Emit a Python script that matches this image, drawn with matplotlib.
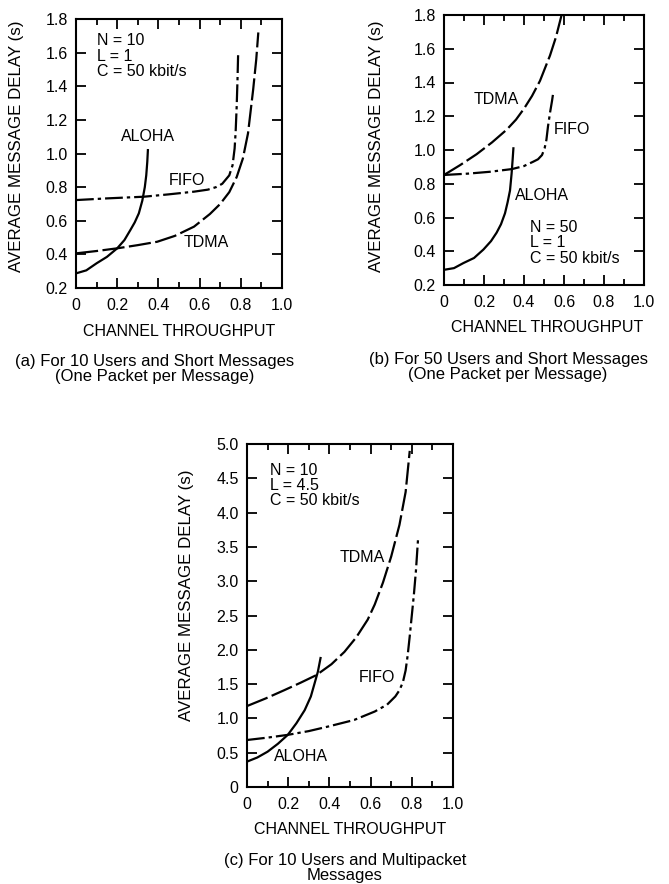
from matplotlib import pyplot as plt
from matplotlib.ticker import MultipleLocator

plt.rcParams['font.family'] = ['Liberation Sans', 'DejaVu Sans']

# (a) 10 users, short messages
a_aloha_x = [0, 0.05, 0.10, 0.15, 0.20, 0.235, 0.264, 0.285, 0.305, 0.322, 0.334, 0.341, 0.346, 0.349]
a_aloha_y = [0.287, 0.305, 0.347, 0.385, 0.436, 0.485, 0.545, 0.59, 0.644, 0.72, 0.80, 0.87, 0.95, 1.02]
a_fifo_x = [0, 0.15, 0.33, 0.45, 0.573, 0.64, 0.68, 0.71, 0.744, 0.76, 0.77, 0.775, 0.78, 0.784, 0.787]
a_fifo_y = [0.723, 0.733, 0.743, 0.757, 0.773, 0.785, 0.80, 0.82, 0.87, 0.93, 1.03, 1.13, 1.28, 1.44, 1.59]
a_tdma_x = [0, 0.1, 0.2, 0.3, 0.394, 0.48, 0.573, 0.65, 0.70, 0.744, 0.78, 0.81, 0.835, 0.86, 0.875, 0.885]
a_tdma_y = [0.406, 0.42, 0.436, 0.455, 0.475, 0.51, 0.565, 0.64, 0.70, 0.77, 0.86, 0.97, 1.12, 1.38, 1.56, 1.72]

# (b) 50 users, short messages
b_aloha_x = [0, 0.05, 0.097, 0.15, 0.197, 0.235, 0.263, 0.285, 0.305, 0.318, 0.33, 0.338, 0.343, 0.347]
b_aloha_y = [0.29, 0.30, 0.33, 0.36, 0.41, 0.46, 0.51, 0.56, 0.625, 0.69, 0.76, 0.86, 0.94, 1.01]
b_fifo_x = [0, 0.12, 0.23, 0.34, 0.4, 0.445, 0.47, 0.49, 0.503, 0.512, 0.52, 0.53, 0.54, 0.545]
b_fifo_y = [0.852, 0.86, 0.871, 0.887, 0.905, 0.93, 0.945, 0.97, 1.01, 1.06, 1.14, 1.22, 1.29, 1.33]
b_tdma_x = [0, 0.08, 0.163, 0.24, 0.313, 0.36, 0.40, 0.44, 0.48, 0.53, 0.56, 0.588]
b_tdma_y = [0.852, 0.91, 0.975, 1.045, 1.12, 1.18, 1.245, 1.32, 1.41, 1.56, 1.67, 1.80]

# (c) 10 users, multipacket messages
c_aloha_x = [0, 0.05, 0.10, 0.15, 0.198, 0.24, 0.28, 0.31, 0.328, 0.344, 0.357]
c_aloha_y = [0.37, 0.43, 0.515, 0.63, 0.76, 0.93, 1.12, 1.32, 1.51, 1.68, 1.88]
c_fifo_x = [0, 0.1, 0.198, 0.3, 0.392, 0.52, 0.62, 0.68, 0.72, 0.74, 0.757, 0.77, 0.78, 0.79, 0.80, 0.81, 0.82, 0.83]
c_fifo_y = [0.685, 0.72, 0.76, 0.815, 0.88, 0.977, 1.10, 1.20, 1.32, 1.41, 1.53, 1.70, 1.92, 2.2, 2.5, 2.8, 3.15, 3.6]
c_tdma_x = [0, 0.09, 0.18, 0.26, 0.336, 0.41, 0.473, 0.53, 0.586, 0.62, 0.66, 0.70, 0.74, 0.77, 0.79]
c_tdma_y = [1.18, 1.29, 1.41, 1.52, 1.63, 1.79, 1.97, 2.18, 2.44, 2.66, 2.98, 3.36, 3.82, 4.3, 4.9]

x_ticks = [0, 0.2, 0.4, 0.6, 0.8, 1.0]
x_tick_labels = ['0', '0.2', '0.4', '0.6', '0.8', '1.0']
y_ticks_ab = [0.2, 0.4, 0.6, 0.8, 1.0, 1.2, 1.4, 1.6, 1.8]
y_labels_ab = ['0.2', '0.4', '0.6', '0.8', '1.0', '1.2', '1.4', '1.6', '1.8']
y_ticks_c = [0, 0.5, 1.0, 1.5, 2.0, 2.5, 3.0, 3.5, 4.0, 4.5, 5.0]
y_labels_c = ['0', '0.5', '1.0', '1.5', '2.0', '2.5', '3.0', '3.5', '4.0', '4.5', '5.0']

TDMA_LS = (0, (10, 2))
FIFO_LS = (0, (8, 1.8, 1.5, 1.8))
LW = 1.6
FS = 11.5

fig = plt.figure(figsize=(6.69, 8.84), dpi=100)


def px(x, y):
    return x / 669, 1 - y / 884


def panel(rect, ylim, yt, ytl):
    l, t, r, b = rect
    x0, y0 = px(l, b)
    x1, y1 = px(r, t)
    ax = fig.add_axes([x0, y0, x1 - x0, y1 - y0])
    ax.set_xlim(0, 1.0)
    ax.set_ylim(*ylim)
    ax.set_xticks(x_ticks)
    ax.set_xticklabels(x_tick_labels)
    ax.xaxis.set_minor_locator(MultipleLocator(0.1))
    ax.set_yticks(yt)
    ax.set_yticklabels(ytl)
    for s in ax.spines.values():
        s.set_linewidth(1.5)
    ax.tick_params(which='both', direction='in', top=True, right=True,
                   labelsize=FS, width=1.3)
    ax.tick_params(which='major', length=7)
    ax.tick_params(which='minor', length=4)
    ax.tick_params(axis='x', pad=7)
    ax.tick_params(axis='y', pad=6)
    return ax


def labels(ylab_x, ycen, xcen, xlab_y, capx, cap_y, cap):
    fig.text(*px(ylab_x, ycen), 'AVERAGE MESSAGE DELAY (s)', rotation=90,
             ha='center', va='center', fontsize=12.2)
    fig.text(*px(xcen, xlab_y), 'CHANNEL THROUGHPUT', ha='center',
             va='center', fontsize=FS)
    fig.text(*px(capx, cap_y), cap, ha='center', va='center',
             fontsize=12, linespacing=1.05)


def curves(ax, al, fi, td):
    ax.plot(*al, color='black', lw=LW)
    ax.plot(*fi, color='black', lw=LW, ls=FIFO_LS)
    ax.plot(*td, color='black', lw=LW, ls=TDMA_LS)


# panel (a)
ax = panel((76, 19, 282, 288), (0.2, 1.8), y_ticks_ab, y_labels_ab)
curves(ax, (a_aloha_x, a_aloha_y), (a_fifo_x, a_fifo_y), (a_tdma_x, a_tdma_y))
ax.text(0.35, 1.10, 'ALOHA', ha='center', va='center', fontsize=FS)
ax.text(0.54, 0.84, 'FIFO', ha='center', va='center', fontsize=FS)
ax.text(0.63, 0.47, 'TDMA', ha='center', va='center', fontsize=FS)
ax.text(0.103, 1.715, 'N = 10\nL = 1\nC = 50 kbit/s', ha='left', va='top',
        fontsize=FS, linespacing=1.03)
labels(17, 146, 179, 332, 155, 369,
       '(a) For 10 Users and Short Messages\n(One Packet per Message)')

# panel (b)
ax = panel((444, 15, 644, 285), (0.2, 1.8), y_ticks_ab, y_labels_ab)
curves(ax, (b_aloha_x, b_aloha_y), (b_fifo_x, b_fifo_y), (b_tdma_x, b_tdma_y))
ax.text(0.49, 0.73, 'ALOHA', ha='center', va='center', fontsize=FS)
ax.text(0.64, 1.12, 'FIFO', ha='center', va='center', fontsize=FS)
ax.text(0.26, 1.30, 'TDMA', ha='center', va='center', fontsize=FS)
ax.text(0.43, 0.585, 'N = 50\nL = 1\nC = 50 kbit/s', ha='left', va='top',
        fontsize=FS, linespacing=1.03)
labels(377, 146, 547, 328, 508, 367,
       '(b) For 50 Users and Short Messages\n(One Packet per Message)')

# panel (c)
ax = panel((247, 444, 453, 787), (0, 5.0), y_ticks_c, y_labels_c)
curves(ax, (c_aloha_x, c_aloha_y), (c_fifo_x, c_fifo_y), (c_tdma_x, c_tdma_y))
ax.text(0.26, 0.44, 'ALOHA', ha='center', va='center', fontsize=FS)
ax.text(0.63, 1.59, 'FIFO', ha='center', va='center', fontsize=FS)
ax.text(0.56, 3.34, 'TDMA', ha='center', va='center', fontsize=FS)
ax.text(0.11, 4.73, 'N = 10\nL = 4.5\nC = 50 kbit/s', ha='left', va='top',
        fontsize=FS, linespacing=1.03)
labels(187, 595, 350, 830, 345, 868,
       '(c) For 10 Users and Multipacket\nMessages')

fig.savefig('out.png', dpi=100)
